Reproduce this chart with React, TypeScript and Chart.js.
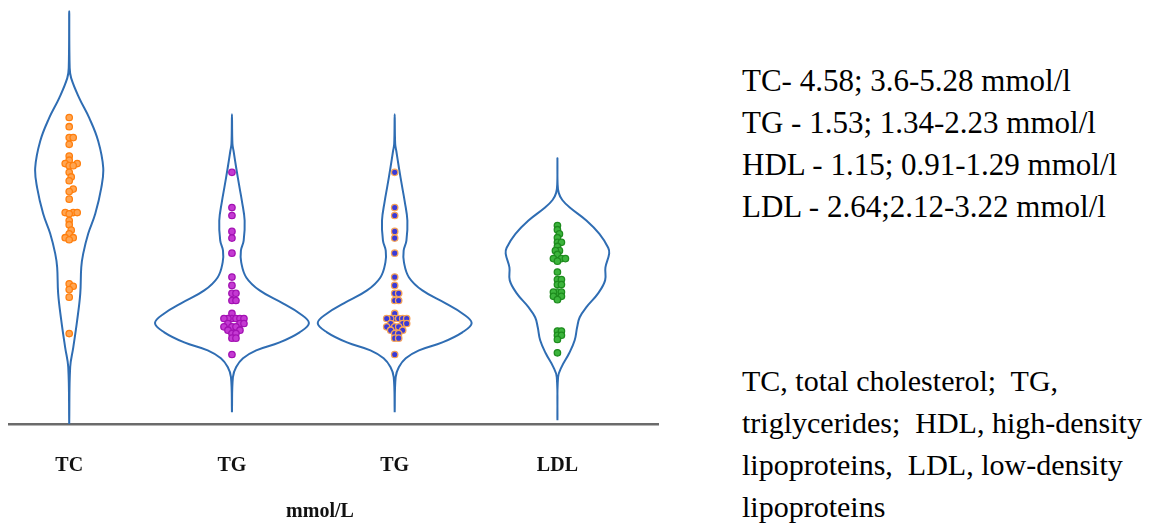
import React, { useEffect, useRef } from 'react';
import { Chart, registerables } from 'chart.js';

Chart.register(...registerables);

// ---- data ----
const categories = ['TC', 'TG', 'TG', 'LDL'];
const axisTitle = 'mmol/L';

const tcValues = [6.42, 6.2, 5.94, 5.94, 5.78, 5.5, 5.4, 5.32, 5.32, 5.27, 5.27, 5.11, 5.0, 4.91, 4.71, 4.65, 4.47, 4.15, 4.15, 4.15, 4.12, 3.96, 3.86, 3.73, 3.64, 3.55, 3.55, 3.5, 2.45, 2.39, 2.31, 2.13, 1.26];
const tgValues = [5.11, 4.27, 4.08, 3.7, 3.54, 3.18, 2.61, 2.41, 2.22, 2.22, 2.05, 2.05, 1.74, 1.62, 1.62, 1.62, 1.62, 1.62, 1.62, 1.5, 1.5, 1.5, 1.42, 1.42, 1.42, 1.34, 1.34, 1.26, 1.26, 1.15, 1.15, 0.76];
const tg2Values = [5.11, 4.27, 4.08, 3.7, 3.54, 3.18, 2.61, 2.41, 2.22, 2.22, 2.05, 2.05, 1.74, 1.62, 1.62, 1.62, 1.62, 1.62, 1.62, 1.5, 1.5, 1.5, 1.42, 1.42, 1.42, 1.34, 1.34, 1.26, 1.26, 1.15, 1.15, 0.76];
const ldlValues = [3.84, 3.74, 3.64, 3.55, 3.44, 3.44, 3.34, 3.24, 3.24, 3.15, 3.05, 3.05, 3.05, 2.99, 2.73, 2.55, 2.55, 2.43, 2.43, 2.25, 2.25, 2.25, 2.15, 2.15, 2.07, 1.32, 1.32, 1.22, 1.22, 1.12, 0.8];

// violin outlines: density half-widths (in category units) at value levels
const tcLevels = [-0.9, 0.46, 0.93, 1.58, 2.22, 2.84, 3.17, 3.65, 4.12, 4.74, 5.22, 5.86, 6.41, 6.89, 7.36, 7.6, 8.96];
const tcWidths = [0, 0.006, 0.025, 0.049, 0.068, 0.074, 0.086, 0.117, 0.16, 0.197, 0.209, 0.178, 0.123, 0.061, 0.012, 0.003, 0];
const tgLevels = [-0.62, 0.22, 0.46, 0.67, 0.86, 1.05, 1.29, 1.51, 1.74, 1.98, 2.29, 2.6, 2.96, 3.24, 3.48, 3.96, 4.43, 4.74, 5.22, 5.62, 5.79, 6.5];
const tgWidths = [0, 0.006, 0.026, 0.068, 0.149, 0.293, 0.416, 0.473, 0.416, 0.313, 0.17, 0.088, 0.057, 0.055, 0.072, 0.078, 0.061, 0.047, 0.026, 0.01, 0.003, 0];
const ldlLevels = [-0.81, 0.22, 0.46, 0.79, 1.1, 1.41, 1.65, 1.89, 2.22, 2.53, 2.84, 3.17, 3.31, 3.64, 3.96, 4.27, 4.45, 4.62, 4.85, 5.45];
const ldlWidths = [0, 0.004, 0.025, 0.072, 0.106, 0.121, 0.137, 0.178, 0.25, 0.293, 0.295, 0.318, 0.312, 0.258, 0.178, 0.076, 0.03, 0.008, 0.001, 0];

const summaryLines = [
  'TC- 4.58; 3.6-5.28 mmol/l',
  'TG - 1.53; 1.34-2.23 mmol/l',
  'HDL - 1.15; 0.91-1.29 mmol/l',
  'LDL - 2.64;2.12-3.22 mmol/l',
];
const abbreviationLines = [
  'TC, total cholesterol;  TG,',
  'triglycerides;  HDL, high-density',
  'lipoproteins,  LDL, low-density',
  'lipoproteins',
];

// ---- styles ----
const violinColor = '#2f6db3';
const dotFill = ['#ffa552', '#c43ad2', '#3a3ad8', '#3cb43c'];
const dotBorder = ['#ff7f0e', '#a312b3', '#f4a259', '#1e8c1e'];
const PX_PER_X = 162.7;
const PX_PER_Y = 42;
const DOT_GAP = 4;

function violinPoints(center: number, levels: number[], widths: number[]) {
  const right = levels.map((lv, i) => ({ x: center + widths[i], y: lv }));
  const left = levels.map((lv, i) => ({ x: center - widths[i], y: lv })).reverse();
  return [...right, ...left.slice(1)];
}

function swarm(values: number[], center: number) {
  const order = values.map((v, i) => ({ v, i })).sort((a, b) => a.v - b.v);
  const placed: { x: number; y: number }[] = [];
  const out: { x: number; y: number }[] = new Array(values.length);
  for (const { v, i } of order) {
    const yp = v * PX_PER_Y;
    let xo = 0;
    for (let n = 0; n < 80; n++) {
      const k = Math.ceil(n / 2);
      const cand = (n % 2 === 1 ? k : -k) * (DOT_GAP / 2);
      const hit = placed.some((p) => {
        const dx = cand - p.x;
        const dy = yp - p.y;
        return dx * dx + dy * dy < DOT_GAP * DOT_GAP - 0.01;
      });
      if (!hit) {
        xo = cand;
        break;
      }
    }
    placed.push({ x: xo, y: yp });
    out[i] = { x: center + xo / PX_PER_X, y: v };
  }
  return out;
}

export default function App() {
  const ref = useRef<HTMLCanvasElement | null>(null);

  useEffect(() => {
    if (!ref.current) return;
    const dotSeries = [tcValues, tgValues, tg2Values, ldlValues];
    const violins = [
      [tcLevels, tcWidths],
      [tgLevels, tgWidths],
      [tgLevels, tgWidths],
      [ldlLevels, ldlWidths],
    ];
    const datasets: any[] = [];
    dotSeries.forEach((vals, i) => {
      datasets.push({
        label: categories[i] + ' points',
        data: swarm(vals, i + 1),
        pointRadius: 3.2,
        pointBorderWidth: 1.3,
        backgroundColor: dotFill[i],
        borderColor: dotBorder[i],
        showLine: false,
        order: 0,
      });
    });
    violins.forEach(([lv, w], i) => {
      datasets.push({
        label: categories[i] + ' density',
        data: violinPoints(i + 1, lv, w),
        showLine: true,
        fill: false,
        tension: 0.4,
        pointRadius: 0,
        borderColor: violinColor,
        borderWidth: 2,
        order: 1,
      });
    });

    const titlePlugin = {
      id: 'axisTitleText',
      afterDraw(chart: any) {
        const ctx = chart.ctx;
        ctx.save();
        ctx.font = 'bold 20px "Liberation Serif", "Times New Roman", serif';
        ctx.fillStyle = '#111';
        ctx.textAlign = 'center';
        ctx.textBaseline = 'alphabetic';
        ctx.fillText(axisTitle, 320, 517);
        ctx.restore();
      },
    };

    const chart = new Chart(ref.current, {
      type: 'scatter',
      data: { datasets },
      options: {
        animation: false,
        responsive: false,
        devicePixelRatio: 1,
        layout: { padding: { left: 9, right: 22, top: 4, bottom: 17 } },
        plugins: { legend: { display: false }, tooltip: { enabled: false } },
        scales: {
          x: {
            type: 'linear',
            min: 0.63,
            max: 4.618,
            grid: { display: false, drawTicks: false },
            border: { display: true, color: '#6b6b6b', width: 2.5 },
            afterBuildTicks: (axis: any) => {
              axis.ticks = categories.map((_, i) => ({ value: i + 1 }));
            },
            ticks: {
              autoSkip: false,
              maxRotation: 0,
              padding: 30,
              color: '#111',
              font: { family: '"Liberation Serif", "Times New Roman", serif', size: 20, weight: 'bold' },
              callback: (v: any) => categories[Math.round(Number(v)) - 1] ?? '',
            },
          },
          y: { type: 'linear', display: false, min: -0.9, max: 9.1 },
        },
      },
      plugins: [titlePlugin],
    } as any);
    return () => chart.destroy();
  }, []);

  const textStyle: React.CSSProperties = {
    position: 'absolute',
    left: 742,
    fontFamily: '"Liberation Serif", "Times New Roman", serif',
    color: '#000',
    whiteSpace: 'pre',
  };

  return (
    <div style={{ position: 'fixed', left: 0, top: 0, width: 1159, height: 525, background: '#fff', overflow: 'hidden' }}>
      <canvas ref={ref} width={680} height={525} style={{ position: 'absolute', left: 0, top: 0, display: 'block' }} />
      <div style={{ ...textStyle, top: 60, fontSize: 31, lineHeight: '42px' }}>
        {summaryLines.map((l, i) => (
          <div key={i}>{l}</div>
        ))}
      </div>
      <div style={{ ...textStyle, top: 360, fontSize: 30, lineHeight: '42px' }}>
        {abbreviationLines.map((l, i) => (
          <div key={i}>{l}</div>
        ))}
      </div>
    </div>
  );
}
